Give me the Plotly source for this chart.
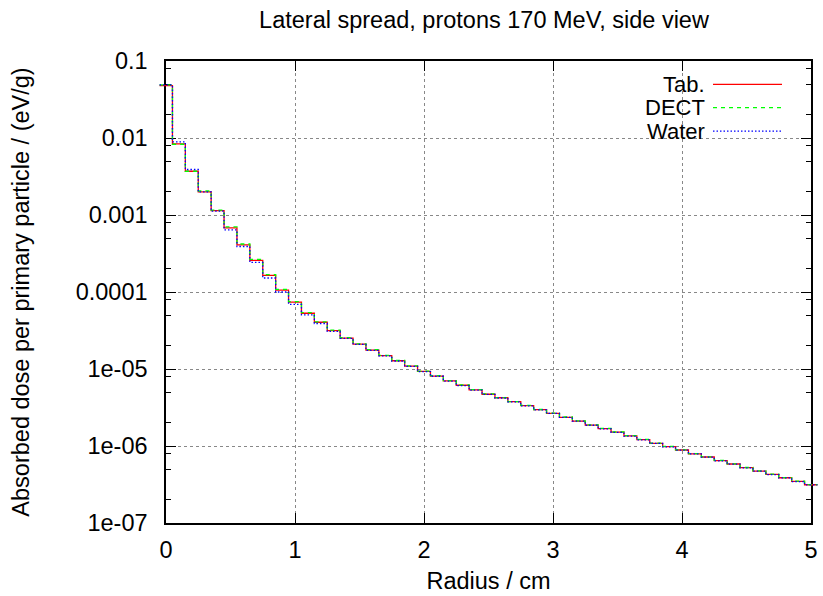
import plotly.graph_objects as go

# ── Data: lateral dose profile, one value per 0.1 cm radial bin ─────────────
radius = [0.0, 0.1, 0.2, 0.3, 0.4, 0.5, 0.6, 0.7, 0.8, 0.9,
          1.0, 1.1, 1.2, 1.3, 1.4, 1.5, 1.6, 1.7, 1.8, 1.9,
          2.0, 2.1, 2.2, 2.3, 2.4, 2.5, 2.6, 2.7, 2.8, 2.9,
          3.0, 3.1, 3.2, 3.3, 3.4, 3.5, 3.6, 3.7, 3.8, 3.9,
          4.0, 4.1, 4.2, 4.3, 4.4, 4.5, 4.6, 4.7, 4.8, 4.9, 5.0]

dose_tab = [4.8e-2, 8.4e-3, 3.7e-3, 2.0e-3, 1.14e-3, 6.8e-4, 4.1e-4, 2.58e-4, 1.64e-4, 1.06e-4,
            7.4e-5, 5.3e-5, 4.05e-5, 3.15e-5, 2.52e-5, 2.11e-5, 1.76e-5, 1.49e-5, 1.28e-5, 1.09e-5,
            9.3e-6, 8.1e-6, 7.0e-6, 6.15e-6, 5.35e-6, 4.7e-6, 4.23e-6, 3.76e-6, 3.34e-6, 2.96e-6,
            2.66e-6, 2.36e-6, 2.11e-6, 1.87e-6, 1.68e-6, 1.51e-6, 1.35e-6, 1.21e-6, 1.08e-6, 9.8e-7,
            8.87e-7, 7.9e-7, 7.2e-7, 6.45e-7, 5.84e-7, 5.23e-7, 4.73e-7, 4.28e-7, 3.87e-7, 3.47e-7, 3.14e-7]

dose_dect = [4.9e-2, 8.3e-3, 3.7e-3, 2.05e-3, 1.16e-3, 7.0e-4, 4.2e-4, 2.65e-4, 1.68e-4, 1.08e-4,
             7.5e-5, 5.4e-5, 4.1e-5, 3.2e-5, 2.55e-5, 2.12e-5, 1.78e-5, 1.5e-5, 1.29e-5, 1.1e-5,
             9.4e-6, 8.2e-6, 7.05e-6, 6.2e-6, 5.4e-6, 4.75e-6, 4.25e-6, 3.78e-6, 3.36e-6, 2.98e-6,
             2.67e-6, 2.38e-6, 2.12e-6, 1.88e-6, 1.69e-6, 1.52e-6, 1.36e-6, 1.22e-6, 1.09e-6, 9.9e-7,
             8.9e-7, 7.95e-7, 7.22e-7, 6.5e-7, 5.86e-7, 5.26e-7, 4.75e-7, 4.3e-7, 3.89e-7, 3.49e-7, 3.15e-7]

dose_water = [4.9e-2, 8.9e-3, 3.9e-3, 2.0e-3, 1.12e-3, 6.4e-4, 3.9e-4, 2.42e-4, 1.52e-4, 1.0e-4,
              6.9e-5, 5.05e-5, 3.9e-5, 3.08e-5, 2.5e-5, 2.09e-5, 1.75e-5, 1.48e-5, 1.27e-5, 1.08e-5,
              9.25e-6, 8.05e-6, 6.95e-6, 6.1e-6, 5.32e-6, 4.68e-6, 4.2e-6, 3.74e-6, 3.32e-6, 2.95e-6,
              2.65e-6, 2.35e-6, 2.1e-6, 1.86e-6, 1.67e-6, 1.5e-6, 1.34e-6, 1.2e-6, 1.08e-6, 9.75e-7,
              8.83e-7, 7.88e-7, 7.18e-7, 6.42e-7, 5.82e-7, 5.21e-7, 4.71e-7, 4.26e-7, 3.85e-7, 3.45e-7, 3.12e-7]

series = [
    ("Tab.", dose_tab, "#ff0000", "solid"),
    ("DECT", dose_dect, "#00ff00", "4px,4px"),
    ("Water", dose_water, "#0000ff", "1.5px,2px"),
]

y_major = [1e-7, 1e-6, 1e-5, 1e-4, 1e-3, 1e-2, 1e-1]
y_major_text = ["1e-07", "1e-06", "1e-05", "0.0001", "0.001", "0.01", "0.1"]
y_minor = [m * d for d in [1e-7, 1e-6, 1e-5, 1e-4, 1e-3, 1e-2] for m in (2, 5, 8)]

FONT = "Liberation Sans, Arial, sans-serif"
FS = 23.5
W, H = 823, 596
# plot box in pixels
L, R, T, B = 166, 811, 61, 523
ML, MR = 159, 5              # margins of the (wider) line layer


def steps(x, y):
    """gnuplot 'histeps': bin edges half a step either side of each point."""
    half = (x[1] - x[0]) / 2
    xs = [v - half for v in x] + [x[-1] + half]
    ys = list(y) + [y[-1]]
    return xs, ys


fig = go.Figure()

# empty trace so the framed x/y subplot (box, grid, ticks) gets drawn
fig.add_trace(go.Scatter(x=[], y=[], xaxis="x", yaxis="y", showlegend=False, hoverinfo="skip"))

for name, vals, colour, dash in series:
    xs, ys = steps(radius, vals)
    fig.add_trace(go.Scatter(
        x=xs, y=ys, name=name, mode="lines",
        line=dict(color=colour, width=1.3, dash=dash, shape="hv"),
        xaxis="x2", yaxis="y2", showlegend=False,
    ))

# ── Axes ────────────────────────────────────────────────────────────────────
inner_w = W - ML - MR
d0 = (L - ML) / inner_w
d1 = (R - ML) / inner_w
px_per_unit = (R - L) / 5.0

axis_common = dict(
    showline=True, linecolor="black", linewidth=1.5, mirror="allticks",
    ticks="inside", tickcolor="black", tickwidth=1.2, ticklen=10,
    showgrid=True, gridcolor="#888888", griddash="dot", gridwidth=1,
    zeroline=False, tickfont=dict(size=FS, color="black"), automargin=False,
)

fig.update_layout(
    width=W, height=H,
    margin=dict(l=ML, r=MR, t=T, b=H - B, autoexpand=False),
    paper_bgcolor="white", plot_bgcolor="rgba(0,0,0,0)",
    font=dict(family=FONT, color="black"),
    showlegend=False,
    title=dict(text="Lateral spread, protons 170 MeV, side view",
               x=484 / W, xref="container", xanchor="center",
               y=1 - 20 / H, yref="container", yanchor="middle",
               font=dict(size=FS, color="black")),
    xaxis=dict(axis_common, domain=[d0, d1], anchor="y", range=[0, 5], dtick=1,
               ticklabelstandoff=5,
               title=dict(text="Radius / cm", font=dict(size=FS), standoff=11)),
    yaxis=dict(axis_common, type="log", anchor="x", range=[-7, -1],
               tickmode="array", tickvals=y_major, ticktext=y_major_text,
               ticklabelstandoff=12,
               minor=dict(tickmode="array", tickvals=y_minor, ticks="inside",
                          ticklen=5, tickcolor="black", tickwidth=1.2, showgrid=False),
               title=dict(text="Absorbed dose per primary particle / (eV/g)",
                          font=dict(size=FS), standoff=39)),
    xaxis2=dict(domain=[0, 1], anchor="y2", visible=False,
                range=[-(L - ML) / px_per_unit, 5 + (W - MR - R) / px_per_unit]),
    yaxis2=dict(domain=[0, 1], anchor="x2", visible=False, type="log", range=[-7, -1]),
)

# ── Legend (gnuplot style: label right-aligned, sample on the right) ────────
ph = B - T
for i, (name, vals, colour, dash) in enumerate(series):
    yy = 1 - (84.3 - T + i * 23.4) / ph
    fig.add_annotation(text=name, xref="x domain", yref="y domain",
                       x=(707 - L) / (R - L), y=yy, xanchor="right", yanchor="middle",
                       showarrow=False, font=dict(size=22, color="black"))
    fig.add_shape(type="line", xref="x domain", yref="y domain",
                  x0=(713 - L) / (R - L), x1=(782 - L) / (R - L), y0=yy, y1=yy,
                  line=dict(color=colour, width=1.3, dash=dash))

# drop the browser's default 8px body margin so the figure sits at (0, 0)
fig.write_html("out.html", config={"displayModeBar": False},
               post_script="document.body.style.margin='0';")
